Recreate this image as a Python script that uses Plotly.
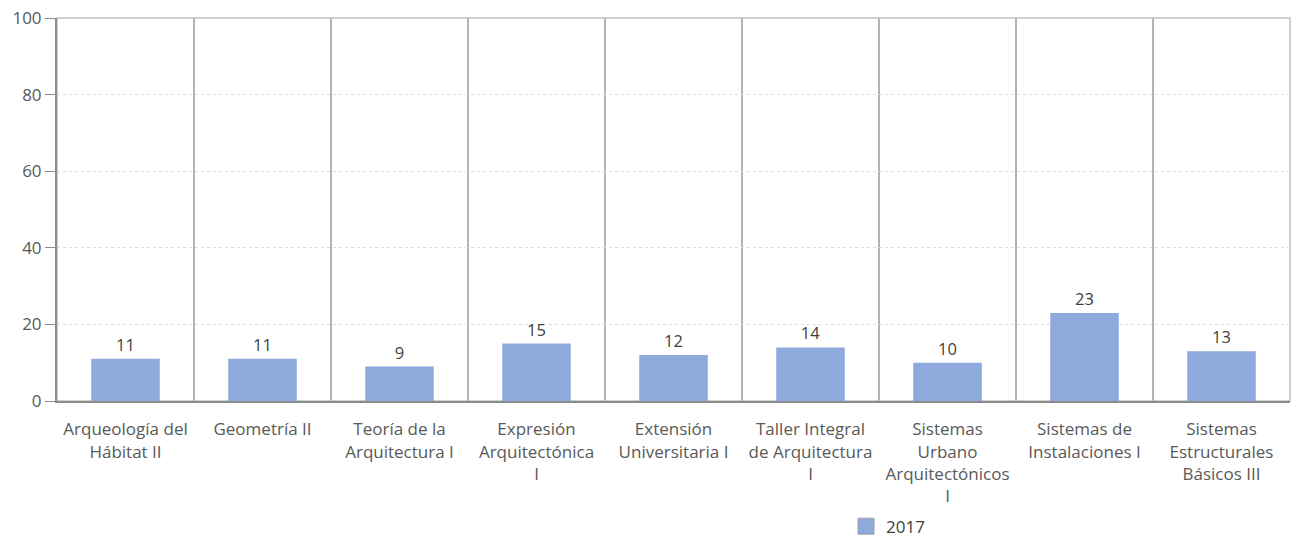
import plotly.graph_objects as go

categories = [
    "Arqueología del<br>Hábitat II",
    "Geometría II",
    "Teoría de la<br>Arquitectura I",
    "Expresión<br>Arquitectónica<br>I",
    "Extensión<br>Universitaria I",
    "Taller Integral<br>de Arquitectura<br>I",
    "Sistemas<br>Urbano<br>Arquitectónicos<br>I",
    "Sistemas de<br>Instalaciones I",
    "Sistemas<br>Estructurales<br>Básicos III",
]
values_2017 = [11, 11, 9, 15, 12, 14, 10, 23, 13]
series_name = "2017"
y_ticks = [0, 20, 40, 60, 80, 100]

FONT = "Open Sans"
BAR_COLOR = "#8EA9DB"

fig = go.Figure()
fig.add_trace(go.Bar(
    x=categories,
    y=values_2017,
    name=series_name,
    marker=dict(color=BAR_COLOR, line=dict(width=0)),
    text=values_2017,
    textposition="outside",
    textfont=dict(family=FONT, size=16.5, color="#404040"),
    cliponaxis=False,
    width=0.5,
    showlegend=False,
))
# legend entry (square swatch like the original)
fig.add_trace(go.Scatter(
    x=[None], y=[None], mode="markers", name=series_name,
    marker=dict(symbol="square", size=16, color=BAR_COLOR,
                line=dict(color="#a0a0a0", width=1)),
    showlegend=True,
))

fig.update_layout(
    width=1293,
    height=538,
    margin=dict(l=57, r=3, t=18, b=137, autoexpand=False),
    paper_bgcolor="white",
    plot_bgcolor="white",
    font=dict(family=FONT, size=17, color="#595959"),
    showlegend=True,
    legend=dict(
        orientation="h",
        x=0.674, xanchor="center",
        y=-0.281, yanchor="top",
        font=dict(family=FONT, size=17, color="#404040"),
        bgcolor="rgba(0,0,0,0)",
        itemsizing="trace",
    ),
    xaxis=dict(
        type="category",
        tickson="boundaries",
        showgrid=True,
        gridcolor="#b4b4b4",
        gridwidth=1.5,
        showline=True,
        linecolor="#8c8c8c",
        linewidth=2,
        ticks="",
        ticklabelstandoff=12,
        ticklabeloverflow="allow",
        tickfont=dict(family=FONT, size=17, color="#595959"),
        zeroline=False,
        automargin=False,
    ),
    yaxis=dict(
        range=[0, 100],
        tickvals=y_ticks,
        showgrid=True,
        gridcolor="#dedede",
        griddash="dot",
        gridwidth=1,
        showline=True,
        linecolor="#8c8c8c",
        linewidth=2,
        ticks="outside",
        ticklen=10,
        tickcolor="#8c8c8c",
        tickwidth=1,
        ticklabeloverflow="allow",
        tickfont=dict(family=FONT, size=17, color="#595959"),
        zeroline=False,
        automargin=False,
    ),
    bargap=0.5,
)

# light border on top/right of plot area
fig.add_shape(type="rect", xref="x domain", yref="y domain",
              x0=0, x1=1, y0=0, y1=1,
              line=dict(color="#c0c0c0", width=1.5), layer="below")

fig.write_html("out.html", config={"displayModeBar": False},
               post_script="document.body.style.margin='0';")
